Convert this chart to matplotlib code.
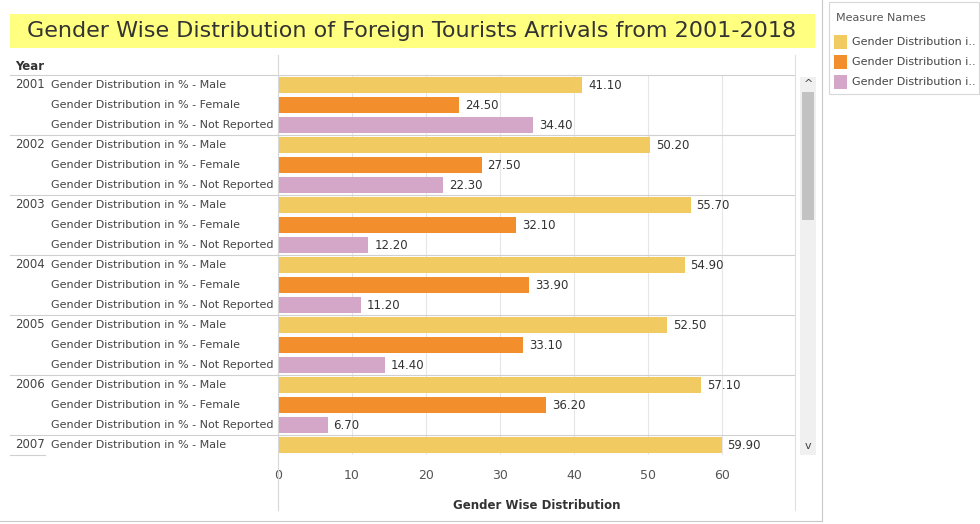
import numpy as np
import matplotlib
matplotlib.use("Agg")
import matplotlib.pyplot as plt
from matplotlib.patches import Rectangle
from matplotlib.lines import Line2D

years = ["2001", "2002", "2003", "2004", "2005", "2006", "2007"]
measures = ["Gender Distribution in % - Male", "Gender Distribution in % - Female",
            "Gender Distribution in % - Not Reported"]
male = [41.1, 50.2, 55.7, 54.9, 52.5, 57.1, 59.9]
female = [24.5, 27.5, 32.1, 33.9, 33.1, 36.2]
notrep = [34.4, 22.3, 12.2, 11.2, 14.4, 6.7]
COLORS = ["#F1CB61", "#F28E2B", "#D4A6C8"]

W, H = 980, 524
fig = plt.figure(figsize=(W / 100, H / 100), dpi=100)
fig.patch.set_facecolor("white")


def fx(x):
    return x / W


def fy(y):
    return 1 - y / H


def ftext(x, y, s, **kw):
    fig.text(fx(x), fy(y), s, **kw)


def fline(x0, x1, y0, y1, color="#d0d0d0", lw=0.8):
    fig.add_artist(Line2D([fx(x0), fx(x1)], [fy(y0), fy(y1)], color=color, lw=lw,
                          transform=fig.transFigure))


def frect(x, y, w, h, **kw):
    fig.add_artist(Rectangle((fx(x), fy(y + h)), w / W, h / H, transform=fig.transFigure, **kw))


# rows in drawing order
vals, cols = [], []
for i in range(len(years)):
    for j, series in enumerate([male, female, notrep]):
        if i < len(series):
            vals.append(series[i])
            cols.append(COLORS[j])
vals = vals[:19]
cols = cols[:19]

top, bot = 75, 455
ax = fig.add_axes([fx(278), fy(bot), fx(795) - fx(278), (bot - top) / H])
y = np.arange(len(vals))
ax.barh(y, vals, height=0.78, color=cols, zorder=3)
for yi, v in zip(y, vals):
    ax.text(v + 0.8, yi, f"{v:.2f}", va="center", ha="left", fontsize=8.5, color="#333333")
ax.set_xlim(0, 69.8)
ax.set_ylim(len(vals) - 0.5, -0.5)
ax.set_xticks(range(0, 70, 10))
ax.grid(axis="x", color="#e6e6e6", lw=0.8, zorder=0)
ax.set_yticks([])
ax.tick_params(axis="x", length=0, labelsize=9, colors="#555555", pad=10)
for s in ax.spines.values():
    s.set_visible(False)
ax.set_xlabel("Gender Wise Distribution", fontsize=8.5, fontweight="bold", color="#333333", labelpad=12)

# row labels
for k in range(len(vals)):
    yc = top + 10 + 20 * k
    ftext(51, yc, measures[k % 3], ha="left", va="center", fontsize=8, color="#444444")
    if k % 3 == 0:
        ftext(15, yc, years[k // 3], ha="left", va="center", fontsize=8.5, color="#444444")
        if k > 0:
            fline(10, 795, yc - 10, yc - 10)
fline(10, 795, top, top)
fline(10, 45, bot, bot)
fline(278, 278, 55, 510, color="#d8d8d8")
fline(795, 795, 55, 510, color="#e0e0e0")
ftext(15, 67, "Year", ha="left", va="center", fontsize=8.5, fontweight="bold", color="#333333")

# title
frect(10, 14, 805, 34, facecolor="#FFFF80", edgecolor="none")
ftext(412, 31, "Gender Wise Distribution of Foreign Tourists Arrivals from 2001-2018",
      ha="center", va="center", fontsize=16, color="#333333")

# scrollbar
frect(800, 77, 16, 378, facecolor="#f0f0f0", edgecolor="none")
frect(802, 92, 12, 128, facecolor="#c2c2c2", edgecolor="none")
ftext(808, 84, "^", ha="center", va="center", fontsize=8, color="#444444")
ftext(808, 446, "v", ha="center", va="center", fontsize=8, color="#444444")

# frame of the view
fline(822, 822, 0, 521, color="#c8c8c8")
fline(0, 822, 521, 521, color="#c8c8c8")

# legend
frect(829, 2, 150, 92, facecolor="white", edgecolor="#d8d8d8", lw=0.8)
ftext(836, 18, "Measure Names", ha="left", va="center", fontsize=8, color="#555555")
for j, c in enumerate(COLORS):
    yc = 42 + 20 * j
    frect(834, yc - 7, 13, 14, facecolor=c, edgecolor="none")
    ftext(852, yc, "Gender Distribution i..", ha="left", va="center", fontsize=8, color="#444444")

fig.savefig("out.png", dpi=100)
